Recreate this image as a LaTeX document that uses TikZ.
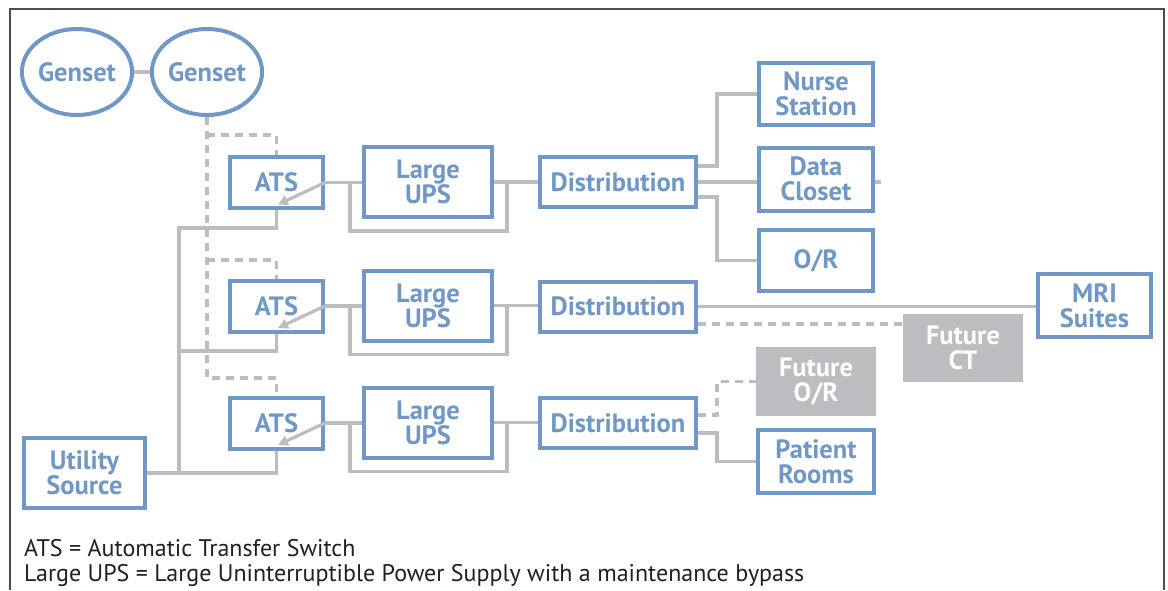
\documentclass[tikz,border=0pt]{standalone}
\usepackage{fontspec}
\setmainfont{PT Sans}
\usetikzlibrary{shapes.geometric,arrows.meta,calc}
\definecolor{bl}{HTML}{6F98C7}
\definecolor{gr}{HTML}{BCBDC0}
\definecolor{fr}{HTML}{4D4D4D}
\definecolor{tx}{HTML}{231F20}
\begin{document}
\begin{tikzpicture}[x=1pt,y=-1pt,
  lbl/.style={font=\bfseries\fontsize{26.5}{25}\selectfont, align=center, inner sep=0pt},
  box/.style={lbl, draw=bl, line width=4pt, text=bl, fill=white},
  oval/.style={lbl, ellipse, draw=bl, line width=4pt, text=bl, minimum width=106pt, minimum height=86pt},
  future/.style={lbl, fill=gr, text=white},
  wire/.style={draw=gr, line width=3.2pt},
  dwire/.style={wire, dash pattern=on 8pt off 6pt},
  arr/.style={wire, -{Triangle[length=10pt,width=10pt]}},
  legend/.style={font=\fontsize{24}{26}\selectfont, inner sep=0pt, text=tx}]
\useasboundingbox (0,0) rectangle (1168,590);
\draw[fr, line width=2pt] (10,590) -- (10,9) -- (1164,9) -- (1164,590);

% nodes
\node[oval] (g1) at (77,72) {Genset};
\node[oval] (g2) at (207,72) {Genset};
\node[box, minimum width=121pt, minimum height=70pt] (util) at (84.5,473) {Utility\\Source};
\foreach \i/\y/\u/\d in {1/182.5/182/182, 2/306/305.5/306.5, 3/423/422.5/423}{
  \node[box, minimum width=93pt, minimum height=51pt] (ats\i) at (276.5,\y) {ATS};
  \node[box, minimum width=128pt, minimum height=70pt] (ups\i) at (428,\u) {Large\\UPS};
  \node[box, minimum width=156pt, minimum height=50pt] (dist\i) at (618,\d) {Distribution};
}
\node[box, minimum width=114pt, minimum height=62pt] (nurse) at (816,94) {Nurse\\Station};
\node[box, minimum width=114pt, minimum height=63pt] (data) at (816,179) {Data\\Closet};
\node[box, minimum width=114pt, minimum height=61pt] (orr) at (816,260.5) {O/R};
\node[box, minimum width=113pt, minimum height=63pt] (mri) at (1094.5,305.5) {MRI\\Suites};
\node[future, minimum width=120pt, minimum height=68pt] (fct) at (963,348) {Future\\CT};
\node[future, minimum width=120pt, minimum height=69pt] (futor) at (816,381.5) {Future\\O/R};
\node[box, minimum width=116pt, minimum height=63pt] (pat) at (816,461.5) {Patient\\Rooms};

% genset links
\draw[wire] (g1.east) -- (g2.west);
\coordinate (dj1) at (207,135);
\coordinate (dj2) at (207,260);
\coordinate (dj3) at (207,378);
\draw[dwire] (g2.south) -- (dj3) -| (ats3.north);
\draw[dwire] (dj1) -| (ats1.north);
\draw[dwire] (dj2) -| (ats2.north);

% utility bus
\coordinate (b1) at (179,228);
\coordinate (b2) at (179,351);
\coordinate (b3) at (179,473);
\draw[wire] (util.east) -| (ats3.south);
\draw[wire] (b3) -- (b1) -| (ats1.south);
\draw[wire] (b2) -| (ats2.south);

% rows
\foreach \i in {1,2,3}{
  \draw[wire] (ats\i.east) -- (ats\i.east -| ups\i.west);
  \draw[arr] (ats\i.east) -- ++(-47,22);
  \draw[wire] ([xshift=-12pt]ups\i.west) -- ++(0,49) -| ([xshift=13pt]ups\i.east);
  \draw[wire] (ups\i.east) -- (ups\i.east -| dist\i.west);
}

% row 1 outputs
\draw[wire] ([yshift=16pt]dist1.east) -- ++(19,0) |- (nurse.west);
\draw[wire] (dist1.east) -- (dist1.east -| data.west);
\draw[wire] (data.east |- dist1.east) -- ++(6,0);
\draw[wire] ([yshift=-15pt]dist1.east) -- ++(19,0) |- (orr.west);
% row 2 outputs
\draw[wire] (dist2.east) -- (dist2.east -| mri.west);
\path ([yshift=-17.5pt]dist2.east) coordinate (c2);
\draw[dwire] (c2) -- (c2 -| fct.west);
% row 3 outputs
\draw[dwire] ([yshift=8pt]dist3.east) -- ++(19,0) |- (futor.west);
\draw[wire] ([yshift=-10pt]dist3.east) -- ++(19,0) |- (pat.west);

% legend
\node[legend, anchor=base west] (l1) at (24,556) {ATS = Automatic Transfer Switch};
\node[legend, anchor=base west] (l2) at (24,581) {Large UPS = Large Uninterruptible Power Supply with a maintenance bypass};
\end{tikzpicture}
\end{document}
